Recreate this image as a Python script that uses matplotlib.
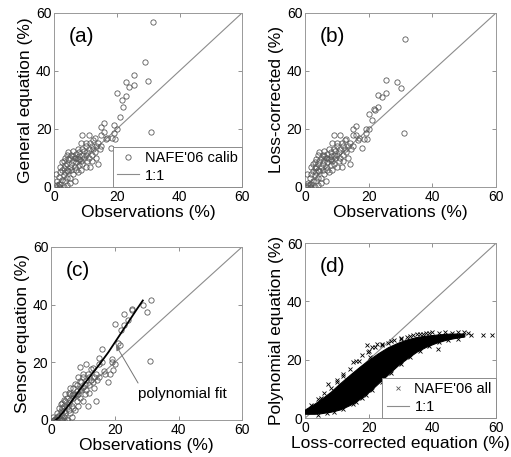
"""
Four-panel comparison of soil moisture estimates against observations
"""

import numpy as np
import matplotlib
matplotlib.use('Agg')  # Non-interactive backend
import matplotlib.pyplot as plt

plt.rcParams['font.family'] = ['Liberation Sans', 'DejaVu Sans']

# Observations (%) shared by panels (a)-(c)
obs = [0.5, 1.0, 1.0, 1.5, 1.5, 1.5, 2.0, 2.0, 2.0, 2.0, 2.5, 2.5, 2.5,
       3.0, 3.0, 3.0, 3.0, 3.5, 3.5, 3.5, 3.5, 4.0, 4.0, 4.0, 4.0, 4.0,
       4.5, 4.5, 4.5, 5.0, 5.0, 5.0, 5.0, 5.5, 5.5, 5.5, 6.0, 6.0, 6.0, 6.0,
       6.5, 6.5, 6.5, 7.0, 7.0, 7.0, 7.0, 7.5, 7.5, 7.5, 8.0, 8.0, 8.0, 8.0,
       8.5, 8.5, 8.5, 9.0, 9.0, 9.0, 9.0, 9.5, 9.5, 10.0, 10.0, 10.0, 10.0,
       10.5, 10.5, 11.0, 11.0, 11.0, 11.5, 11.5, 12.0, 12.0, 12.0, 12.5, 12.5,
       13.0, 13.0, 13.5, 13.5, 14.0, 14.0, 14.5, 15.0, 15.0, 15.0, 16.0, 16.0,
       16.5, 17.0, 18.0, 18.5, 19.0, 19.0, 19.5, 20.0, 20.0, 21.0, 21.5, 22.0,
       23.0, 23.0, 24.0, 25.5, 25.5, 29.0, 30.0, 31.0, 31.5]

# (a) General equation (%)
general_eq = [4.5, 2.0, 0.5, 1.0, 3.5, 0.0, 0.0, 1.0, 5.0, 7.0, 2.5, 6.0, 8.5,
              4.0, 6.5, 0.0, 9.0, 5.0, 7.5, 2.0, 10.0, 6.0, 11.0, 8.0, 0.5, 3.0,
              5.5, 9.5, 12.0, 7.0, 3.0, 10.0, 1.5, 8.0, 11.0, 6.0, 9.0, 4.5, 12.5, 10.5,
              7.0, 10.0, 2.0, 8.5, 11.5, 6.0, 10.0, 9.5, 13.0, 5.0, 10.5, 7.5, 12.0, 9.5,
              15.0, 9.0, 6.0, 11.0, 18.0, 8.0, 13.0, 12.5, 10.0, 14.0, 11.0, 7.0, 15.0,
              12.0, 9.0, 13.0, 18.0, 10.0, 15.0, 7.0, 14.0, 11.0, 9.0, 13.0, 16.0,
              12.0, 17.0, 14.0, 10.0, 8.0, 15.0, 13.0, 18.0, 20.5, 14.0, 19.0, 22.0,
              16.5, 17.0, 13.5, 17.0, 18.5, 21.5, 16.5, 20.0, 32.5, 24.0, 30.0, 27.5,
              31.5, 36.0, 34.5, 35.0, 38.5, 43.0, 36.5, 19.0, 57.0]

# (b) Loss-corrected (%)
loss_corr = [4.5, 1.5, 0.5, 1.0, 3.0, 0.0, 0.0, 1.0, 4.5, 7.0, 2.0, 5.5, 8.0,
             4.0, 6.5, 0.0, 8.5, 5.0, 7.0, 2.0, 9.5, 6.0, 11.0, 8.0, 0.5, 3.0,
             5.5, 9.0, 12.0, 7.0, 3.0, 10.0, 1.5, 8.0, 11.0, 6.0, 9.0, 4.5, 12.5, 10.5,
             7.0, 10.0, 2.0, 8.5, 11.5, 6.0, 10.0, 9.5, 13.0, 5.0, 10.5, 7.5, 12.0, 9.5,
             15.0, 9.0, 6.0, 11.0, 18.0, 8.0, 13.0, 12.5, 10.0, 14.0, 11.0, 7.0, 15.0,
             12.0, 9.0, 13.0, 18.0, 10.0, 15.0, 7.0, 14.0, 11.0, 9.0, 13.0, 16.0,
             12.0, 16.5, 14.0, 10.0, 8.0, 15.0, 13.0, 18.0, 20.0, 14.0, 18.0, 21.0,
             16.0, 17.0, 13.5, 16.5, 18.5, 20.0, 16.5, 20.0, 25.0, 23.0, 27.0, 26.5,
             27.5, 31.8, 31.0, 32.5, 37.0, 36.0, 34.0, 18.5, 51.0]

# (c) Sensor equation (%)
sensor_eq = [1.0, 0.0, 0.0, 0.0, 0.5, 0.0, 0.0, 0.0, 1.0, 2.5, 0.0, 1.5, 4.0,
             0.5, 3.0, 0.0, 5.5, 2.0, 4.0, 0.0, 6.0, 3.0, 7.0, 5.0, 0.0, 1.0,
             2.5, 6.5, 9.0, 4.5, 0.5, 7.5, 0.0, 6.0, 9.5, 3.5, 7.0, 2.5, 11.0, 9.0,
             5.0, 8.5, 1.0, 7.5, 11.0, 4.0, 9.0, 9.0, 12.5, 3.5, 10.0, 6.5, 12.0, 8.5,
             15.0, 9.0, 5.0, 11.0, 18.5, 7.5, 13.5, 13.0, 10.5, 15.0, 11.5, 6.5, 16.0,
             12.5, 9.0, 14.0, 19.5, 10.5, 16.0, 5.0, 15.0, 12.0, 9.5, 14.0, 17.5,
             13.0, 18.0, 15.0, 11.0, 6.5, 16.0, 14.0, 19.5, 21.5, 15.0, 20.0, 24.5,
             17.0, 16.0, 13.3, 16.0, 20.0, 21.0, 17.3, 19.5, 33.4, 26.5, 26.0, 31.0,
             33.0, 36.8, 34.8, 38.3, 38.0, 39.8, 37.5, 20.3, 41.5]

# (c) polynomial fit
fit_x = [1.5, 2.5, 4.0, 6.0, 9.0, 12.0, 15.0, 18.0, 21.0, 24.0, 27.0, 28.8]
fit_y = [0.0, 1.0, 3.0, 5.8, 10.5, 14.8, 19.0, 23.5, 28.5, 33.5, 38.5, 41.4]

# (d) envelope of the dense NAFE'06 cloud
cloud_x = [0, 3, 5, 8, 11, 14, 17, 20, 23, 26, 29, 32, 35, 38, 41, 44, 47, 50]
cloud_lo = [1.5, 1.5, 1.7, 2.2, 3.0, 4.5, 6.5, 9.0, 12.0, 15.0, 18.0, 20.5,
            22.8, 24.5, 25.8, 26.8, 27.5, 28.0]
cloud_hi = [3.0, 5.0, 6.5, 9.0, 12.0, 14.8, 17.5, 20.0, 22.3, 24.3, 25.8, 27.0,
            27.8, 28.3, 28.6, 28.9, 29.0, 29.0]

# (d) scattered points around and on the edges of the cloud
all_x = [7.3, 15.2, 19.9, 21.0, 20.4, 23.6, 25.2, 26.7, 19.4, 41.8, 43.0, 45.0,
         47.0, 49.0, 51.3, 52.0, 56.0, 58.8, 30.0, 33.0, 35.0, 37.0, 39.0, 28.0,
         26.0, 24.0, 22.5, 18.0, 17.0, 12.0, 10.0, 5.0,
         2.0, 4.0, 6.0, 8.0, 10.0, 12.0, 14.0, 16.0, 18.0, 20.0, 22.0, 24.0,
         27.0, 30.0, 32.0, 34.0, 36.0, 38.0, 40.0, 42.0, 44.0, 46.0, 48.0, 50.0,
         4.0, 7.0, 9.0, 12.0, 15.0, 16.0, 19.0, 21.0, 24.0, 27.0, 30.0, 33.0,
         36.0, 39.0, 42.0, 45.0, 48.0]
all_y = [11.6, 19.3, 22.7, 24.4, 21.0, 15.9, 16.4, 16.4, 25.0, 23.6, 28.0, 28.5,
         28.2, 28.6, 29.1, 28.5, 28.4, 28.4, 27.5, 28.3, 28.7, 29.0, 29.2, 26.8,
         25.9, 25.0, 25.5, 7.0, 19.5, 14.5, 12.5, 6.8,
         4.5, 6.5, 8.5, 10.5, 13.0, 15.0, 17.0, 19.5, 21.5, 23.0, 24.5, 25.5,
         26.5, 27.0, 27.8, 28.5, 28.8, 29.3, 29.5, 29.3, 29.4, 29.2, 29.5, 29.5,
         1.2, 1.6, 2.2, 3.2, 4.8, 5.7, 7.8, 9.5, 12.5, 15.5, 18.5, 21.0,
         23.0, 24.8, 26.0, 26.8, 27.3]

ticks = [0, 20, 40, 60]
one_to_one = [0, 60]

LINE_GREY = '0.55'
MARK_GREY = '0.35'


def style_axes(ax, xlabel, ylabel, tag):
    """MATLAB-like box axes with inward ticks."""
    ax.set_xlim(0, 60)
    ax.set_ylim(0, 60)
    ax.set_xticks(ticks)
    ax.set_yticks(ticks)
    ax.tick_params(direction='in', top=True, right=True, length=3,
                   width=0.6, color='0.5', labelsize=10, pad=2)
    for sp in ax.spines.values():
        sp.set_color('0.6')
        sp.set_linewidth(0.7)
    ax.set_xlabel(xlabel, fontsize=12.5, labelpad=1)
    ax.set_ylabel(ylabel, fontsize=12.5, labelpad=2)
    ax.text(0.075, 0.865, tag, transform=ax.transAxes, fontsize=15,
            ha='left', va='center')


def add_legend(ax, label, marker, size):
    ax.plot([], [], linestyle='none', marker=marker, markersize=size,
            markerfacecolor='none', markeredgecolor=MARK_GREY,
            markeredgewidth=0.6, label=label)
    ax.plot([], [], color=LINE_GREY, lw=0.8, label='1:1')
    leg = ax.legend(loc='lower right', borderaxespad=0, fancybox=False,
                    fontsize=10.5, handlelength=1.5, handletextpad=0.4,
                    borderpad=0.3, labelspacing=0.25, framealpha=1)
    leg.get_frame().set_edgecolor('0.55')
    leg.get_frame().set_linewidth(0.7)
    leg.set_zorder(5)


def scatter_circles(ax, x, y):
    ax.plot(x, y, linestyle='none', marker='o', markersize=3.8,
            markerfacecolor='none', markeredgecolor=MARK_GREY,
            markeredgewidth=0.6, zorder=3)


def main():
    fig = plt.figure(figsize=(5.11, 4.57), dpi=100)

    ax_a = fig.add_axes([0.106, 0.591, 0.368, 0.381])
    ax_b = fig.add_axes([0.597, 0.591, 0.374, 0.381])
    ax_c = fig.add_axes([0.100, 0.081, 0.374, 0.379])
    ax_d = fig.add_axes([0.597, 0.085, 0.374, 0.383])

    # (a)
    ax_a.plot(one_to_one, one_to_one, color=LINE_GREY, lw=0.8, zorder=2)
    scatter_circles(ax_a, obs, general_eq)
    style_axes(ax_a, 'Observations (%)', 'General equation (%)', '(a)')
    add_legend(ax_a, "NAFE'06 calib", 'o', 3.8)

    # (b)
    ax_b.plot(one_to_one, one_to_one, color=LINE_GREY, lw=0.8, zorder=2)
    scatter_circles(ax_b, obs, loss_corr)
    style_axes(ax_b, 'Observations (%)', 'Loss-corrected (%)', '(b)')

    # (c)
    ax_c.plot(one_to_one, one_to_one, color=LINE_GREY, lw=0.8, zorder=2)
    scatter_circles(ax_c, obs, sensor_eq)
    ax_c.plot(fit_x, fit_y, color='black', lw=1.3, zorder=4)
    ax_c.annotate('polynomial fit', xy=(20.4, 25.8), xytext=(27.2, 9),
                  fontsize=11, ha='left', va='center',
                  arrowprops=dict(arrowstyle='-|>', color='0.45', lw=0.7,
                                  mutation_scale=7, relpos=(0.03, 1.0),
                                  shrinkA=1, shrinkB=0))
    style_axes(ax_c, 'Observations (%)', 'Sensor equation (%)', '(c)')

    # (d)
    ax_d.plot(one_to_one, one_to_one, color=LINE_GREY, lw=0.8, zorder=2)
    ax_d.fill_between(cloud_x, cloud_lo, cloud_hi, color='black', lw=0.8,
                      edgecolor='black', zorder=3)
    ax_d.plot(all_x, all_y, linestyle='none', marker='x', markersize=2.6,
              color='black', markeredgewidth=0.6, zorder=3)
    style_axes(ax_d, 'Loss-corrected equation (%)', 'Polynomial equation (%)', '(d)')
    add_legend(ax_d, "NAFE'06 all", 'x', 2.6)

    fig.savefig('out.png', dpi=100)


if __name__ == "__main__":
    main()
